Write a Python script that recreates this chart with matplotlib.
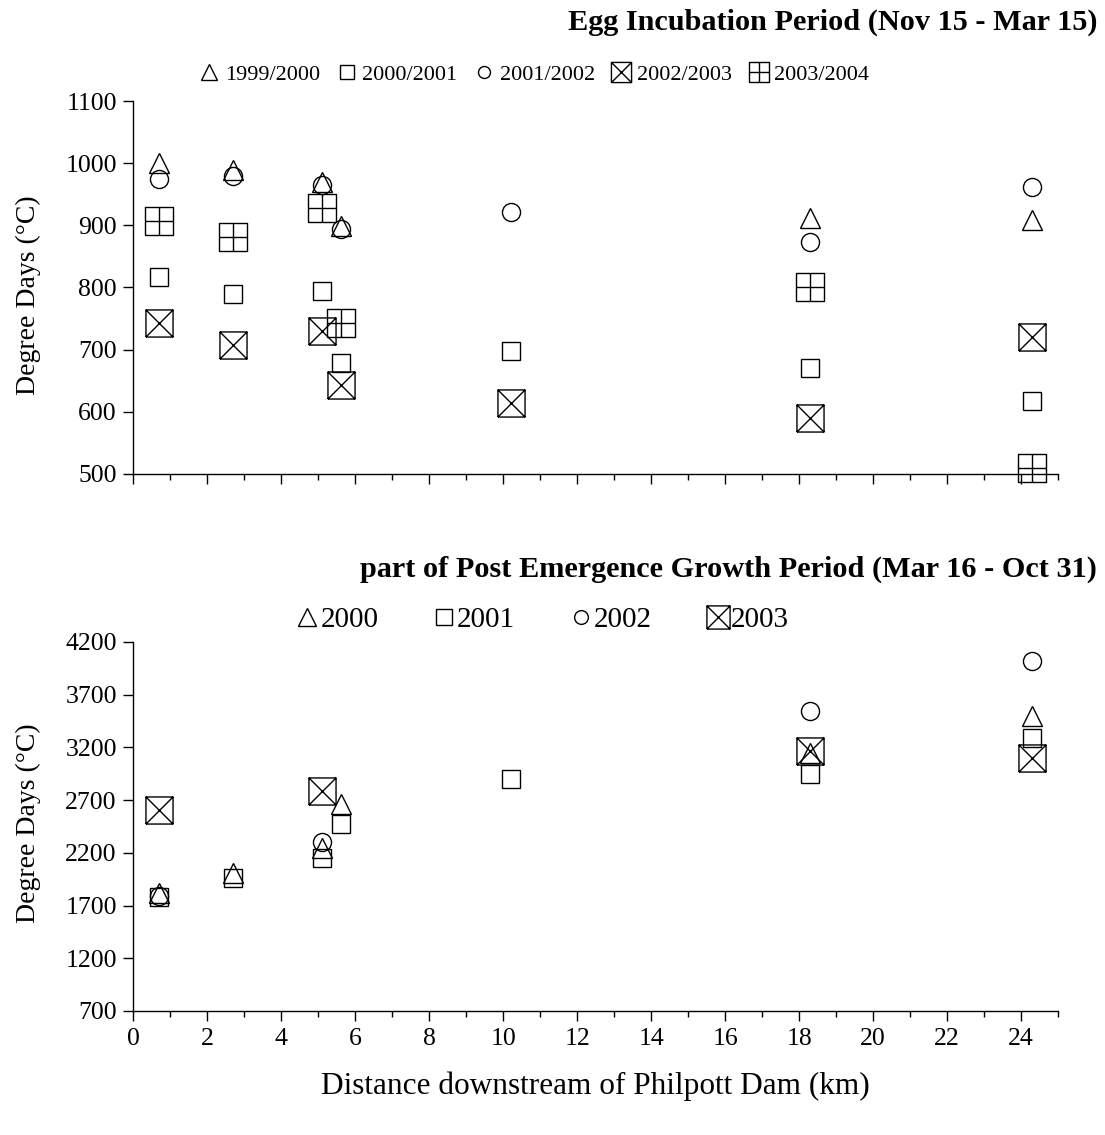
"""
Degree days at sites downstream of Philpott Dam, two periods.
"""

import matplotlib

matplotlib.use("Agg")
import matplotlib.pyplot as plt
import numpy as np
from matplotlib.lines import Line2D
from matplotlib.path import Path

plt.rcParams["font.family"] = ["Liberation Serif", "DejaVu Serif"]

# ---- data (km downstream, degree days) ----
SITES = [0.7, 2.7, 5.1, 5.6, 10.2, 18.3, 24.3]

EGG_LABELS = ["1999/2000", "2000/2001", "2001/2002", "2002/2003", "2003/2004"]
egg_1999 = [1000, 989, 970, 899, np.nan, 912, 909]
egg_2000 = [817, 790, 794, 679, 698, 671, 617]
egg_2001 = [975, 979, 965, 894, 921, 873, 962]
egg_2002 = [743, 708, 730, 643, 614, 590, 720]
egg_2003 = [907, 881, 928, 743, np.nan, 801, 510]

GROWTH_LABELS = ["2000", "2001", "2002", "2003"]
grow_2000 = [1815, 2013, 2241, 2659, np.nan, 3150, 3496]
grow_2001 = [1780, 1965, 2146, 2469, 2900, 2945, 3287]
grow_2002 = [1795, np.nan, 2298, np.nan, np.nan, 3544, 4019]
grow_2003 = [2602, np.nan, 2783, np.nan, np.nan, 3163, 3097]

EGG_TITLE = "Egg Incubation Period (Nov 15 - Mar 15)"
GROWTH_TITLE = "part of Post Emergence Growth Period (Mar 16 - Oct 31)"
YLABEL = "Degree Days (\u00b0C)"
XLABEL = "Distance downstream of Philpott Dam (km)"

# boxed markers
_M, _L = Path.MOVETO, Path.LINETO
BOX_X = Path(
    [(-1, -1), (1, -1), (1, 1), (-1, 1), (-1, -1), (-1, -1), (1, 1), (-1, 1), (1, -1)],
    [_M, _L, _L, _L, _L, _M, _L, _M, _L],
)
BOX_PLUS = Path(
    [(-1, -1), (1, -1), (1, 1), (-1, 1), (-1, -1), (0, -1), (0, 1), (-1, 0), (1, 0)],
    [_M, _L, _L, _L, _L, _M, _L, _M, _L],
)

# marker, size in plot, size in legend
STYLES = [
    ("^", 14.5, 11.0),
    ("s", 13.0, 10.0),
    ("o", 13.0, 8.6),
    (BOX_X, 19.5, 14.5),
    (BOX_PLUS, 19.5, 14.5),
]

TICK_FS = 18.5
LEG_FS = 16
TITLE_FS = 21.8
LABEL_FS = 20


def style_axes(ax, ylim, yticks, show_xlabels):
    ax.set_xlim(0, 25)
    ax.set_ylim(*ylim)
    ax.set_yticks(yticks)
    ax.set_xticks(np.arange(0, 25, 2))
    ax.set_xticks(np.arange(0, 26, 1), minor=True)
    for side in ("top", "right"):
        ax.spines[side].set_visible(False)
    for side in ("left", "bottom"):
        ax.spines[side].set_linewidth(1.0)
    ax.tick_params(axis="both", which="major", direction="out", length=7, width=1.0,
                   labelsize=TICK_FS, pad=5)
    ax.tick_params(axis="x", which="minor", direction="out", length=4.5, width=1.0)
    ax.tick_params(axis="y", which="minor", left=False)
    if not show_xlabels:
        ax.tick_params(axis="x", labelbottom=False)
    ax.set_ylabel(YLABEL, fontsize=LABEL_FS, va="center")
    ax.yaxis.set_label_coords(-0.1136, 0.48)


def draw_series(ax, series):
    for vals, (marker, size, _) in zip(series, STYLES):
        ax.plot(SITES, vals, linestyle="none", marker=marker, markersize=size,
                markerfacecolor="none", markeredgecolor="black", markeredgewidth=1.0,
                clip_on=False)


def legend_handles(labels, scale=1.0):
    return [
        Line2D([], [], linestyle="none", marker=m, markersize=ls * scale,
               markerfacecolor="none", markeredgecolor="black", markeredgewidth=1.0,
               label=lab)
        for lab, (m, _, ls) in zip(labels, STYLES)
    ]


fig = plt.figure(figsize=(11.05, 11.35), dpi=100)
ax_top = fig.add_axes([0.1208, 0.5824, 0.8367, 0.3286])
ax_bot = fig.add_axes([0.1208, 0.1093, 0.8367, 0.3251])

draw_series(ax_top, [egg_1999, egg_2000, egg_2001, egg_2002, egg_2003])
style_axes(ax_top, (500, 1100), np.arange(500, 1101, 100), show_xlabels=False)

draw_series(ax_bot, [grow_2000, grow_2001, grow_2002, grow_2003])
style_axes(ax_bot, (700, 4200), np.arange(700, 4201, 500), show_xlabels=True)
ax_bot.yaxis.set_label_coords(-0.1136, 0.51)
ax_bot.set_xlabel(XLABEL, fontsize=22.5, labelpad=16)

fig.text(0.993, 0.980, EGG_TITLE, ha="right", va="center", fontsize=TITLE_FS,
         fontweight="bold")
fig.text(0.993, 0.4985, GROWTH_TITLE, ha="right", va="center", fontsize=TITLE_FS,
         fontweight="bold")

fig.legend(handles=legend_handles(EGG_LABELS), loc="center",
           bbox_to_anchor=(0.484, 0.9340), ncol=5, frameon=False,
           fontsize=LEG_FS, handlelength=0.8, handletextpad=0.3, columnspacing=0.8,
           borderpad=0)
fig.legend(handles=legend_handles(GROWTH_LABELS, scale=1.15), loc="center",
           bbox_to_anchor=(0.492, 0.4538), ncol=4, frameon=False,
           fontsize=21, handlelength=0.6, handletextpad=0.15,
           columnspacing=1.95, borderpad=0)

fig.savefig("out.png", dpi=100)
plt.close(fig)
